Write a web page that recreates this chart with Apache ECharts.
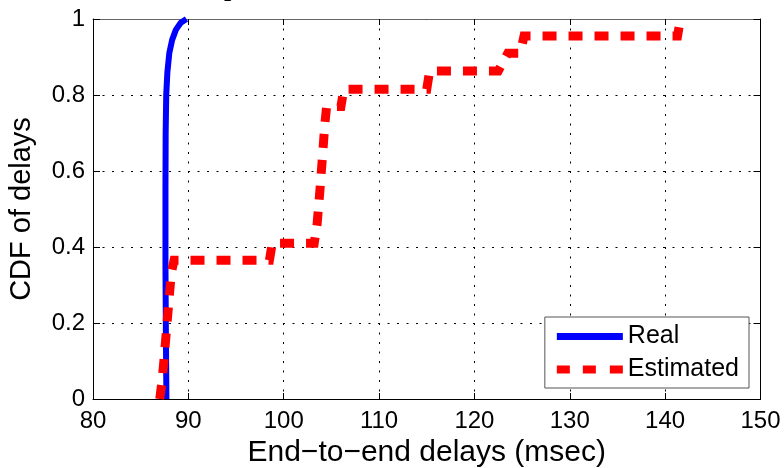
<!DOCTYPE html>
<html>
<head>
<meta charset="utf-8">
<script src="https://cdn.jsdelivr.net/npm/echarts@6/dist/echarts.min.js"></script>
<style>
  html, body { margin: 0; padding: 0; background: #fff; }
  #chart { width: 784px; height: 468px; }
</style>
</head>
<body>
<div id="chart"></div>
<script>
// values
const realDelays = [87.7, 87.65, 87.6, 87.6, 87.62, 87.68, 87.8, 88.0, 88.3, 88.7, 89.2, 89.8];
const realCdf = [0, 0.15, 0.35, 0.55, 0.7, 0.8, 0.86, 0.91, 0.945, 0.972, 0.99, 1];

const estDelays = [87.0, 87.2, 87.4, 87.6, 87.8, 88.0, 88.2, 88.5, 98.5, 98.8, 103.2, 103.5, 103.8,
  104.1, 104.3, 104.5, 106.0, 106.3, 115.0, 115.3, 122.5, 123.5, 124.8, 125.2, 141.3, 141.6];
const estCdf = [0, 0.04, 0.09, 0.15, 0.21, 0.27, 0.33, 0.365, 0.365, 0.41, 0.41, 0.46, 0.55,
  0.65, 0.72, 0.77, 0.77, 0.815, 0.815, 0.863, 0.863, 0.91, 0.91, 0.955, 0.955, 1];

const seriesNames = ['Real', 'Estimated'];
const titleText = 'p';

const font = "'Liberation Sans', Arial, sans-serif";

const chart = echarts.init(document.getElementById('chart'));

const gridDots = { color: '#000', width: 1, type: [2, 7.5] };

const option = {
  backgroundColor: '#fff',
  animation: false,
  graphic: [
    {
      type: 'text',
      left: 224,
      top: -24,
      style: {
        text: titleText,
        font: "bold 26px 'Liberation Serif', 'Times New Roman', serif",
        fill: '#000',
      },
    },
  ],
  grid: {
    left: 93,
    right: 23.5,
    top: 19,
    bottom: 69,
    show: false,
    containLabel: false,
    outerBoundsMode: 'none',
  },
  legend: {
    right: 35,
    top: 317,
    orient: 'vertical',
    backgroundColor: '#fff',
    borderColor: '#555',
    borderWidth: 1,
    borderRadius: 0,
    padding: [7, 10, 6, 12],
    itemGap: 8,
    itemWidth: 66,
    itemHeight: 8,
    textStyle: { fontFamily: font, fontSize: 25, color: '#000' },
    data: [
      { name: seriesNames[0], icon: 'path://M0,0H66V7H0Z' },
      { name: seriesNames[1], icon: 'path://M0,0H13V8H0Z M26,0H39V8H26Z M53,0H66V8H53Z' },
    ],
  },
  xAxis: [
    {
      type: 'value',
      min: 80,
      max: 150,
      interval: 10,
      name: 'End\u2212to\u2212end delays (msec)',
      nameLocation: 'middle',
      nameGap: 39,
      nameTextStyle: { fontFamily: font, fontSize: 30, color: '#000' },
      axisLine: { show: true, onZero: false, lineStyle: { color: '#000', width: 1 } },
      axisTick: { show: true, inside: true, length: 6, lineStyle: { color: '#000' } },
      axisLabel: { fontFamily: font, fontSize: 24, color: '#000', margin: 10 },
      splitLine: { show: true, lineStyle: gridDots },
    },
    {
      type: 'value',
      position: 'top',
      min: 80,
      max: 150,
      interval: 10,
      axisLine: { show: true, onZero: false, lineStyle: { color: '#666', width: 1 } },
      axisTick: { show: true, inside: true, length: 6, lineStyle: { color: '#000' } },
      axisLabel: { show: false },
      splitLine: { show: false },
    },
  ],
  yAxis: [
    {
      type: 'value',
      min: 0,
      max: 1,
      interval: 0.2,
      name: 'CDF of delays',
      nameLocation: 'middle',
      nameGap: 57,
      nameTextStyle: { fontFamily: font, fontSize: 29, color: '#000' },
      axisLine: { show: true, onZero: false, lineStyle: { color: '#000', width: 1 } },
      axisTick: { show: true, inside: true, length: 7, lineStyle: { color: '#000' } },
      axisLabel: {
        fontFamily: font,
        fontSize: 24,
        color: '#000',
        margin: 8,
        formatter: (v) => String(Math.round(v * 10) / 10),
      },
      splitLine: { show: true, lineStyle: gridDots },
    },
    {
      type: 'value',
      position: 'right',
      min: 0,
      max: 1,
      interval: 0.2,
      axisLine: { show: true, onZero: false, lineStyle: { color: '#000', width: 1 } },
      axisTick: { show: true, inside: true, length: 7, lineStyle: { color: '#000' } },
      axisLabel: { show: false },
      splitLine: { show: false },
    },
  ],
  series: [
    {
      name: seriesNames[0],
      type: 'line',
      symbol: 'none',
      smooth: false,
      data: realDelays.map((d, i) => [d, realCdf[i]]),
      lineStyle: { color: '#0000ff', width: 6, cap: 'butt' },
      itemStyle: { color: '#0000ff' },
      z: 3,
    },
    {
      name: seriesNames[1],
      type: 'line',
      symbol: 'none',
      smooth: false,
      data: estDelays.map((d, i) => [d, estCdf[i]]),
      lineStyle: { color: '#ff0000', width: 9, type: [14, 12], cap: 'butt', join: 'miter' },
      itemStyle: { color: '#ff0000' },
      z: 4,
    },
  ],
};

chart.setOption(option);
</script>
</body>
</html>
